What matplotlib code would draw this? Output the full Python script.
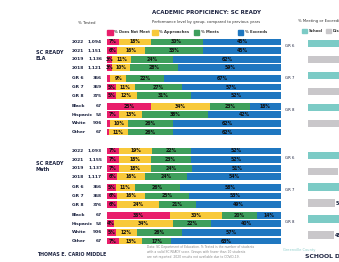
# Academic proficiency: SC READY, school vs district
import numpy as np
import matplotlib
matplotlib.use("Agg")
from matplotlib import pyplot as plt
from matplotlib.patches import Rectangle
from matplotlib import transforms

# data
row_labels = ["2022", "2021", "2019", "2018", "GR 6", "GR 7", "GR 8",
              "Black", "Hispanic", "White", "Other"]
ela_tested = ["1,094", "1,151", "1,136", "1,121", "366", "369", "375",
              "67", "53", "906", "67"]
math_tested = ["1,093", "1,155", "1,137", "1,117", "366", "368", "376",
               "67", "53", "906", "67"]

ela_not_meet = [7, 6, 3, 3, 2, 5, 5, 25, 7, 2, 1]
ela_approach = [18, 16, 11, 10, 9, 11, 12, 34, 13, 10, 11]
ela_meets = [30, 33, 24, 28, 22, 27, 31, 23, 38, 26, 26]
ela_exceeds = [45, 45, 62, 59, 67, 57, 52, 18, 42, 62, 62]

math_not_meet = [7, 7, 7, 6, 5, 6, 6, 36, 4, 5, 7]
math_approach = [19, 18, 18, 16, 11, 16, 24, 30, 34, 12, 13]
math_meets = [22, 23, 24, 24, 26, 25, 21, 20, 22, 26, 17]
math_exceeds = [52, 52, 51, 54, 58, 53, 49, 14, 40, 57, 63]

grades = ["GR 6", "GR 7", "GR 8"]
ela_school = [89, 84, 83]
ela_district = [62, 60, 61]
math_school = [84, 78, 70]
math_district = [55, 50, 48]

levels = ["% Does Not Meet", "% Approaches", "% Meets", "% Exceeds"]
colors = ["#e91e6b", "#f8c93a", "#3e9f5c", "#1f77c0"]
teal = "#7ccbc6"
grey = "#c9c7ca"
navy = "#1c2340"

W, H = 339, 262
fig = plt.figure(figsize=(W / 100, H / 100), dpi=100)
fig.patch.set_facecolor("white")


def fx(x):
    return x / W


def fy(y):
    return 1 - y / H


# row layout: years, grades, groups with small gaps
row_off = np.array([0, 1, 2, 3, 4.25, 5.25, 6.25, 7.5, 8.5, 9.5, 10.5])
math_start = 12.7
top_y, bot_y = 37.7, 245.3

ax = fig.add_axes([fx(107), fy(bot_y), (281 - 107) / W, (bot_y - top_y) / H])
ax.set_xlim(0, 100)
ax.set_ylim(23.7, -0.5)
ax.axis("off")

sections = [
    (row_off, [ela_not_meet, ela_approach, ela_meets, ela_exceeds], ela_tested),
    (row_off + math_start, [math_not_meet, math_approach, math_meets, math_exceeds], math_tested),
]
lab_tr = transforms.blended_transform_factory(ax.transAxes, ax.transData)
for ys, series, tested in sections:
    left = np.zeros(len(ys))
    for vals, c in zip(series, colors):
        vals = np.array(vals)
        ax.barh(ys, vals, left=left, height=0.8, color=c, linewidth=0)
        for y, l, v in zip(ys, left, vals):
            if v >= 3:
                ax.text(l + v / 2, y, f"{v}%", ha="center", va="center",
                        fontsize=3.3, fontweight="bold", color="#111111")
        left += vals
    for y, lab, n in zip(ys, row_labels, tested):
        ax.text(-0.201, y, lab, transform=lab_tr, ha="left", va="center",
                fontsize=3.2, fontweight="bold", color=navy)
        ax.text(-0.029, y, n, transform=lab_tr, ha="right", va="center",
                fontsize=3.2, fontweight="bold", color=navy)

# right panel: % meeting or exceeding, school vs district
# (panel runs past the right edge of the picture, as in the original crop)
rx_left, rx_w = 308, 54
visible_pct = (W - rx_left) / rx_w * 100
rx = fig.add_axes([fx(rx_left), fy(bot_y), rx_w / W, (bot_y - top_y) / H])
rx.set_xlim(0, 100)
rx.set_ylim(23.7, -0.5)
rx.axis("off")
g_tr = transforms.blended_transform_factory(fig.transFigure, rx.transData)
for start, school, district in [(0, ela_school, ela_district),
                                (13.0, math_school, math_district)]:
    for k, (g, s, d) in enumerate(zip(grades, school, district)):
        ys = start + 0.2 + 2 * k * 1.86
        yd = ys + 1.86
        rx.barh(ys, s, height=0.85, color=teal, linewidth=0)
        rx.barh(yd, d, height=0.85, color=grey, linewidth=0)
        if d + 2 < visible_pct:
            rx.text(d + 2, yd, f"{d}%", va="center", fontsize=3.3,
                    fontweight="bold", color=navy)
        rx.text(fx(285), ys + 0.3, g, transform=g_tr, va="center",
                fontsize=2.8, color=navy)

# titles and legends
fig.text(fx(152), fy(13), "ACADEMIC PROFICIENCY: SC READY", fontsize=4,
         fontweight="bold", color=navy, va="center")
fig.text(fx(152), fy(22.5), "Performance level by group, compared to previous years",
         fontsize=2.7, color="#333333", va="center")
fig.text(fx(78), fy(23), "% Tested", fontsize=2.8, color="#333333", va="center")
fig.text(fx(298), fy(21), "% Meeting or Exceeding",
         fontsize=2.7, color="#333333", va="center")

leg_x = [107, 152, 194, 238]
for x, lab, c in zip(leg_x, levels, colors):
    fig.add_artist(Rectangle((fx(x), fy(34.5)), 5.5 / W, 4.5 / H, color=c,
                             transform=fig.transFigure))
    fig.text(fx(x + 7), fy(32), lab, fontsize=2.7, fontweight="bold",
             color="#333333", va="center")
fig.add_artist(Rectangle((fx(302), fy(33)), 5 / W, 4 / H, color=teal,
                         transform=fig.transFigure))
fig.text(fx(309), fy(31), "School", fontsize=2.7, fontweight="bold",
         color="#333333", va="center")
fig.add_artist(Rectangle((fx(326), fy(33)), 5 / W, 4 / H, color=grey,
                         transform=fig.transFigure))
fig.text(fx(332.5), fy(31), "Dist", fontsize=2.7, fontweight="bold",
         color="#333333", va="center")

# section labels
fig.text(fx(36), fy(55.5), "SC READY\nELA", fontsize=3.6, fontweight="bold",
         color=navy, va="center", linespacing=1.3)
fig.text(fx(36), fy(166.5), "SC READY\nMath", fontsize=3.6, fontweight="bold",
         color=navy, va="center", linespacing=1.3)

# footer
fig.text(fx(37), fy(255), "THOMAS E. CARIO MIDDLE", fontsize=3.4,
         fontweight="bold", color=navy, va="center")
fig.text(fx(147), fy(252),
         "Data: SC Department of Education. % Tested is the number of students\n"
         "with a valid SC READY score. Groups with fewer than 10 students\n"
         "are not reported. 2020 results not available due to COVID-19.",
         fontsize=2.2, color="#888888", va="center", linespacing=1.4)
fig.text(fx(283), fy(250), "Greenville County", fontsize=2.6, color="#8fcfcb",
         va="center")
fig.text(fx(305), fy(257), "SCHOOL DI", fontsize=4.4, fontweight="bold",
         color=navy, va="center")

fig.savefig("out.png", dpi=100)
